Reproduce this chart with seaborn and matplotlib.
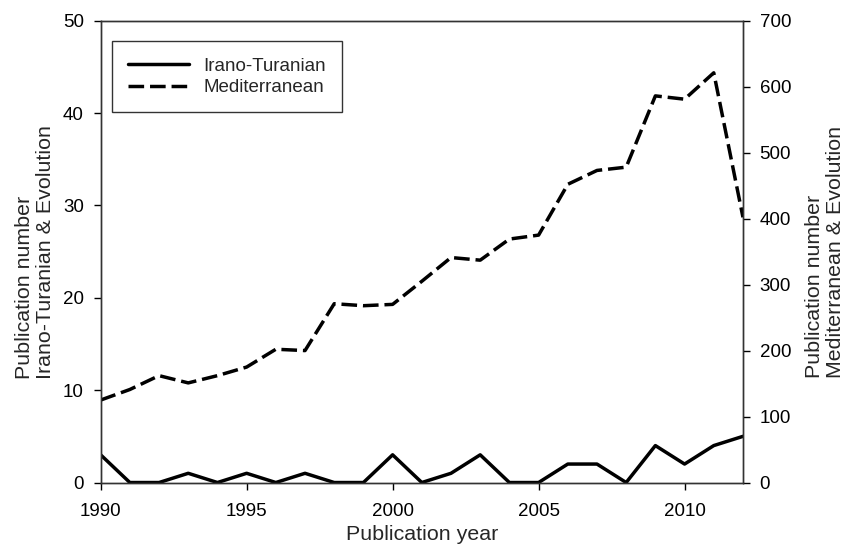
import seaborn as sns
import matplotlib.pyplot as plt
import pandas as pd

years = list(range(1990, 2013))
irano_turanian = [3, 0, 0, 1, 0, 1, 0, 1, 0, 0, 3, 0, 1, 3, 0, 0, 2, 2, 0, 4, 2, 4, 5]
mediterranean = [125, 141, 162, 151, 162, 175, 202, 200, 271, 268, 270, 305, 341, 337,
                 369, 375, 452, 473, 478, 586, 581, 621, 402]

df = pd.DataFrame({'year': years, 'irano': irano_turanian, 'med': mediterranean})

sns.set_style("ticks")
plt.rcParams['font.family'] = ['Liberation Sans', 'DejaVu Sans']

fig = plt.figure(figsize=(8.53, 5.44), dpi=100)
ax = fig.add_axes([0.118, 0.113, 0.753, 0.849])
ax2 = ax.twinx()

sns.lineplot(data=df, x='year', y='irano', ax=ax, color='black', linewidth=2.5,
             label='Irano-Turanian', legend=False)
sns.lineplot(data=df, x='year', y='med', ax=ax2, color='black', linewidth=2.5,
             dashes=False, label='Mediterranean', legend=False)
ax2.lines[0].set_dashes((4.5, 1.7))

ax.set_xlim(1990, 2012)
ax.set_ylim(0, 50)
ax2.set_ylim(0, 700)
ax.set_xticks([1990, 1995, 2000, 2005, 2010])
ax.set_yticks(range(0, 51, 10))
ax2.set_yticks(range(0, 701, 100))

for a in (ax, ax2):
    a.tick_params(direction='out', length=5, width=1, labelsize=13.5, colors='black', pad=7)
    for s in a.spines.values():
        s.set_visible(True)
        s.set_linewidth(1)
        s.set_color('#333333')
ax.tick_params(axis='x', pad=10)

ax.set_xlabel('Publication year', fontsize=15.4, labelpad=3)
ax.set_ylabel('Publication number\nIrano-Turanian & Evolution', fontsize=15.4,
              labelpad=6, multialignment='left', linespacing=1.1)
ax2.set_ylabel('Publication number\nMediterranean & Evolution', fontsize=15.4,
               labelpad=10, multialignment='left', linespacing=1.1)

h1, l1 = ax.get_legend_handles_labels()
h2, l2 = ax2.get_legend_handles_labels()
leg = ax2.legend(h1 + h2, l1 + l2, loc='upper left', fontsize=13.5, handlelength=3.3,
                 handletextpad=0.75, frameon=True, fancybox=False, edgecolor='black',
                 borderaxespad=0, bbox_to_anchor=(0.017, 0.955), borderpad=0.85,
                 labelspacing=0.25)
leg.get_frame().set_linewidth(1)

fig.savefig('out.png', dpi=100)
